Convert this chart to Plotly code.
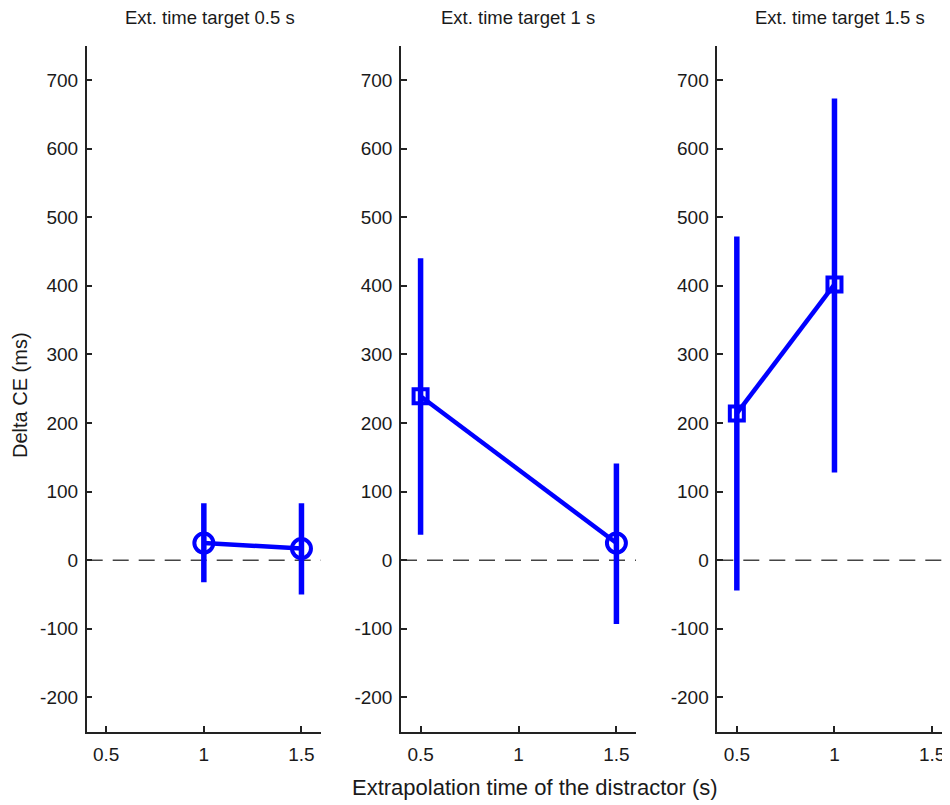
import plotly.graph_objects as go

# ---- data ----
panel_titles = ["Ext. time target 0.5 s", "Ext. time target 1 s", "Ext. time target 1.5 s"]
x_p1 = [1.0, 1.5]
y_p1 = [25, 17]
err_hi_p1 = [83, 83]
err_lo_p1 = [-32, -50]
sym_p1 = ["circle-open", "circle-open"]

x_p2 = [0.5, 1.5]
y_p2 = [239, 25]
err_hi_p2 = [440, 141]
err_lo_p2 = [37, -93]
sym_p2 = ["square-open", "circle-open"]

x_p3 = [0.5, 1.0]
y_p3 = [214, 402]
err_hi_p3 = [472, 673]
err_lo_p3 = [-44, 128]
sym_p3 = ["square-open", "square-open"]

x_ticks = [0.5, 1, 1.5]
x_tick_labels = ["0.5", "1", "1.5"]
y_ticks = [-200, -100, 0, 100, 200, 300, 400, 500, 600, 700]
y_tick_labels = ["-200", "-100", "0", "100", "200", "300", "400", "500", "600", "700"]

panels = [
    (x_p1, y_p1, err_hi_p1, err_lo_p1, sym_p1),
    (x_p2, y_p2, err_hi_p2, err_lo_p2, sym_p2),
    (x_p3, y_p3, err_hi_p3, err_lo_p3, sym_p3),
]

OFF = 8  # page body margin
W, H = 950 - OFF, 805 - OFF
blue = "#0000ff"
font_fam = "Liberation Sans, Arial, sans-serif"
txt = "#1a1a1a"

def px(xw):
    return (xw - OFF) / W

def py(yw):
    return 1 - (yw - OFF) / H

x_domains_win = [(86.7, 321.0), (401.0, 636.0), (717.3, 950.0)]
x_ranges = [[0.4, 1.6], [0.4, 1.6], [0.4, 0.4 + (950.0 - 717.3) / 195.3]]
y_dom = [py(731.7), py(45.7)]
title_x_win = [210, 518, 840]

fig = go.Figure()
for i, (xs, ys, hi, lo, syms) in enumerate(panels):
    ax = "" if i == 0 else str(i + 1)
    ep = [h - y for h, y in zip(hi, ys)]
    em = [y - l for y, l in zip(ys, lo)]
    sizes = [19 if s.startswith("circle") else 14 for s in syms]
    fig.add_trace(go.Scatter(
        x=xs, y=ys, mode="lines+markers",
        line=dict(color=blue, width=4.5),
        marker=dict(symbol=syms, size=sizes, color=blue, opacity=1,
                    line=dict(color=blue, width=4)),
        error_y=dict(type="data", symmetric=False, array=ep, arrayminus=em,
                     color=blue, thickness=5.5, width=0),
        xaxis="x" + ax, yaxis="y" + ax, showlegend=False, hoverinfo="skip",
    ))
    d0, d1 = x_domains_win[i]
    common_axis = dict(showline=True, linecolor="#222", linewidth=1.5, ticks="inside",
                       ticklen=6, tickwidth=1.5, tickcolor="#222", showgrid=False,
                       zeroline=False, tickfont=dict(family=font_fam, size=19, color=txt))
    fig.layout["xaxis" + ax] = dict(domain=[px(d0), px(d1)], range=x_ranges[i],
                                    tickvals=x_ticks, ticktext=x_tick_labels,
                                    anchor="y" + ax, ticklabelstandoff=5, **common_axis)
    fig.layout["yaxis" + ax] = dict(domain=y_dom, range=[-250, 750], tickvals=y_ticks,
                                    ticktext=y_tick_labels,
                                    anchor="x" + ax, ticklabelstandoff=3, **common_axis)
    fig.add_shape(type="line", xref="x" + ax + " domain", yref="y" + ax,
                  x0=0, x1=1, y0=0, y1=0, layer="below",
                  line=dict(color="#444", width=1.5, dash="16px,10px"))
    fig.add_annotation(text=panel_titles[i], xref="paper", yref="paper",
                       x=px(title_x_win[i]), y=py(17), xanchor="center", yanchor="middle",
                       showarrow=False, font=dict(family=font_fam, size=18.5, color=txt))

fig.add_annotation(text="Extrapolation time of the distractor (s)", xref="paper", yref="paper",
                   x=px(535), y=py(787), xanchor="center", yanchor="middle", showarrow=False,
                   font=dict(family=font_fam, size=22, color=txt))
fig.add_annotation(text="Delta CE (ms)", xref="paper", yref="paper",
                   x=px(20), y=py(395), xanchor="center", yanchor="middle",
                   showarrow=False, textangle=-90,
                   font=dict(family=font_fam, size=20, color=txt))

fig.update_layout(width=W, height=H, margin=dict(l=0, r=0, t=0, b=0),
                  paper_bgcolor="white", plot_bgcolor="white")
fig.write_html("out.html")
